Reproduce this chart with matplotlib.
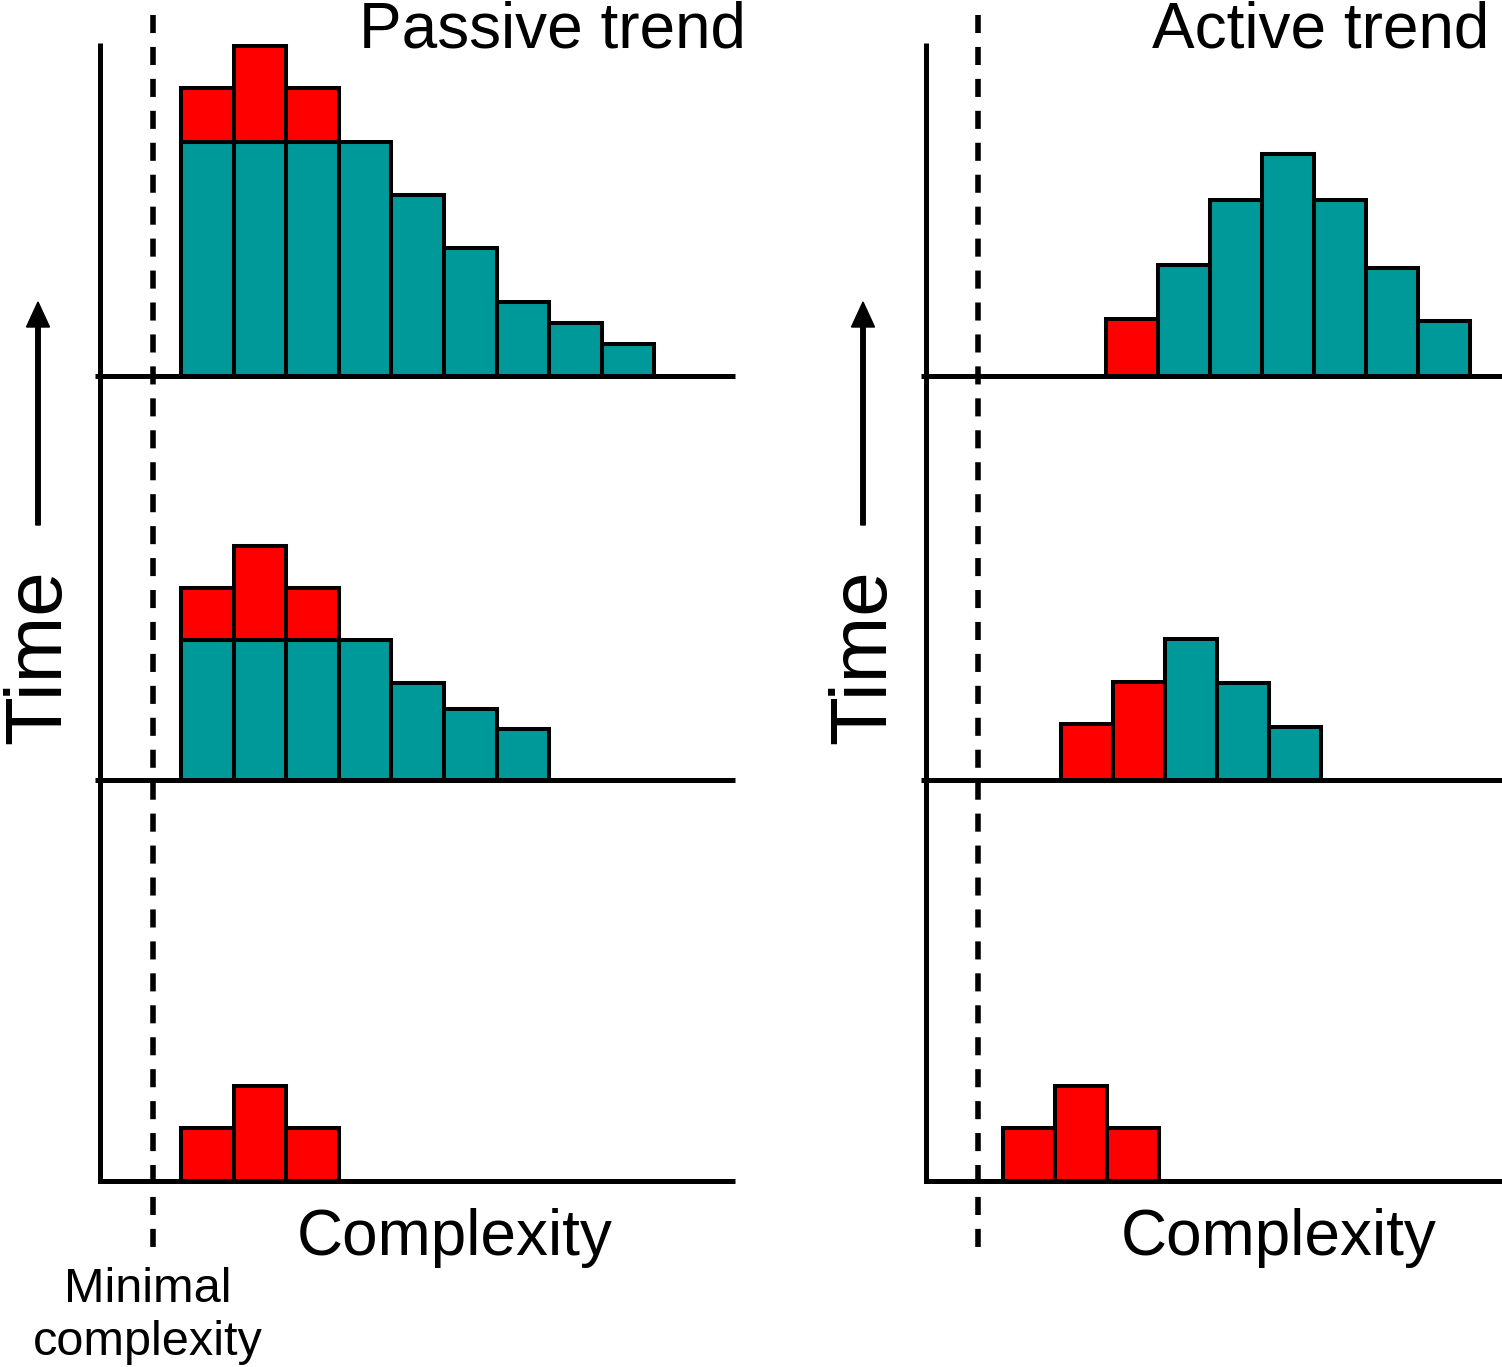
import matplotlib.pyplot as plt
import numpy as np

W, H = 1502, 1367
plt.rcParams['font.family'] = ['Liberation Sans', 'DejaVu Sans']
plt.rcParams['lines.scale_dashes'] = False

RED = '#ff0000'
TEAL = '#009999'

# data: bar heights (arbitrary units) for the three time steps, bottom row first
passive_red_1 = [10.0, 17.9, 10.0]
passive_teal_1 = []
passive_red_2 = [9.8, 17.7, 9.8]
passive_teal_2 = [26.4, 26.4, 26.4, 26.4, 18.3, 13.4, 9.6]
passive_red_3 = [10.2, 18.1, 10.2]
passive_teal_3 = [44.0, 44.0, 44.0, 44.0, 34.0, 24.0, 13.8, 10.0, 6.0]
passive_start = [1.54, 1.54, 1.54]   # complexity of first bin

active_red_1 = [10.0, 17.9, 10.0]
active_teal_1 = []
active_red_2 = [10.6, 18.5]
active_teal_2 = [26.6, 18.3, 10.0]
active_red_3 = [10.6]
active_teal_3 = [20.8, 33.2, 41.7, 33.2, 20.2, 10.2]
active_start = [1.48, 2.6, 3.46]

minimal_complexity = 1.0

# layout (pixels)
UNIT = 5.3
BASES = [1181, 780, 375.5]
LW_AX = 3.6
LW_BAR = 2.9

fig = plt.figure(figsize=(W / 100, H / 100), dpi=100)
ax = fig.add_axes([0, 0, 1, 1])
ax.set_xlim(0, W)
ax.set_ylim(H, 0)
ax.axis('off')


def row_axes(x0, base, bin_px):
    a = fig.add_axes([x0 / W, 1 - base / H, 12 * bin_px / W, 60 * UNIT / H])
    a.set_xlim(0, 12)
    a.set_ylim(0, 60)
    a.axis('off')
    a.patch.set_alpha(0)
    return a


def draw_row(a, start, red, teal, stacked):
    if stacked:
        if teal:
            a.bar(start + np.arange(len(teal)), teal, width=1, align='edge',
                  color=TEAL, edgecolor='black', linewidth=LW_BAR, clip_on=False)
        bottom = teal[:len(red)] if teal else 0
        a.bar(start + np.arange(len(red)), red, width=1, align='edge', bottom=bottom,
              color=RED, edgecolor='black', linewidth=LW_BAR, clip_on=False)
    else:
        a.bar(start + np.arange(len(red)), red, width=1, align='edge',
              color=RED, edgecolor='black', linewidth=LW_BAR, clip_on=False)
        a.bar(start + len(red) + np.arange(len(teal)), teal, width=1, align='edge',
              color=TEAL, edgecolor='black', linewidth=LW_BAR, clip_on=False)


def panel(x_axis, x_end, bin_px, starts, reds, teals, stacked, title, title_x, cx, arrow_x, time_x):
    # axes frame
    ax.plot([x_axis, x_axis, x_end], [43, BASES[0], BASES[0]], color='black',
            lw=LW_AX, solid_joinstyle='miter', solid_capstyle='butt')
    for b in BASES[1:]:
        ax.plot([x_axis - 5, x_end], [b, b], color='black', lw=LW_AX, solid_capstyle='butt')
    # minimal complexity
    xd = x_axis + minimal_complexity * bin_px
    ax.plot([xd, xd], [15, 1250], color='black', lw=4, dashes=(13, 10), dash_capstyle='butt')
    # histograms
    for b, s, r, t in zip(BASES, starts, reds, teals):
        a = row_axes(x_axis, b, bin_px)
        draw_row(a, s, r, t, stacked)
    ax.text(title_x, 48, title, ha='right', va='baseline', fontsize=46)
    ax.text(cx, 1255, 'Complexity', ha='center', va='baseline', fontsize=46)
    ax.arrow(arrow_x, 525, 0, 302 - 525, width=4.5, head_width=23, head_length=25,
             length_includes_head=True, color='black')
    ax.text(time_x, 657, 'Time', rotation=90, rotation_mode='anchor',
            ha='center', va='baseline', fontsize=57.6)


panel(100, 735, 52.6, passive_start,
      [passive_red_1, passive_red_2, passive_red_3],
      [passive_teal_1, passive_teal_2, passive_teal_3],
      True, 'Passive trend', 746, 455, 38, 60)
panel(926, 1502, 52.0, active_start,
      [active_red_1, active_red_2, active_red_3],
      [active_teal_1, active_teal_2, active_teal_3],
      False, 'Active trend', 1489, 1279, 863, 885)

ax.text(148, 1302, 'Minimal', ha='center', va='baseline', fontsize=35)
ax.text(148, 1355, 'complexity', ha='center', va='baseline', fontsize=35)

fig.savefig('out.png', dpi=100)
